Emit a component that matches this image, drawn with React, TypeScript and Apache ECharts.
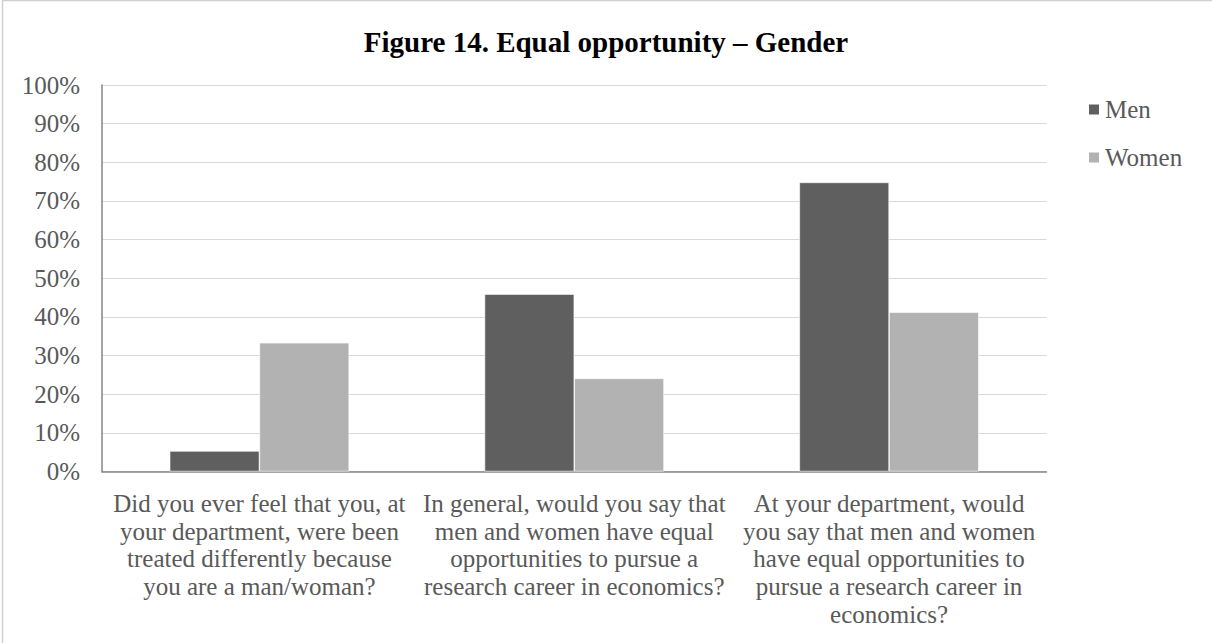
import React, { useEffect, useRef } from "react";
import * as echarts from "echarts";

// Survey questions (x-axis categories), wrapped the way they are printed
const categories: string[] = [
  "Did you ever feel that you, at\nyour department, were been\ntreated differently because\nyou are a man/woman?",
  "In general, would you say that\nmen and women have equal\nopportunities to pursue a\nresearch career in economics?",
  "At your department, would\nyou say that men and women\nhave equal opportunities to\npursue a research career in\neconomics?",
];

// Share of respondents answering "yes", in percent
const menValues: number[] = [5.3, 45.9, 74.8];
const womenValues: number[] = [33.3, 24.1, 41.2];

const seriesNames: string[] = ["Men", "Women"];
const titleText = "Figure 14. Equal opportunity – Gender";

const FONT = "'Liberation Serif', 'Times New Roman', serif";

export default function App() {
  const ref = useRef<HTMLDivElement>(null);

  useEffect(() => {
    if (!ref.current) return;
    const chart = echarts.init(ref.current, null, { renderer: "svg" });
    chart.setOption({
      animation: false,
      backgroundColor: "#ffffff",
      textStyle: { fontFamily: FONT },
      title: {
        text: titleText,
        left: "center",
        top: 22,
        textStyle: {
          fontFamily: FONT,
          fontSize: 29,
          fontWeight: "bold",
          color: "#000000",
        },
      },
      legend: {
        orient: "vertical",
        left: 1082,
        top: 92,
        itemWidth: 12,
        itemHeight: 12,
        itemGap: 23,
        icon: "rect",
        data: seriesNames,
        textStyle: { fontFamily: FONT, fontSize: 25, color: "#595959" },
      },
      grid: { left: 102, right: 165.5, top: 85, bottom: 171.5, containLabel: false },
      xAxis: {
        type: "category",
        data: categories,
        axisTick: { show: false },
        axisLine: { show: true, lineStyle: { color: "#868686", width: 1.5 } },
        axisLabel: {
          interval: 0,
          margin: 18,
          fontFamily: FONT,
          fontSize: 25,
          lineHeight: 27.7,
          color: "#595959",
          align: "center",
        },
      },
      yAxis: {
        type: "value",
        min: 0,
        max: 100,
        interval: 10,
        axisLine: { show: true, lineStyle: { color: "#868686", width: 1.5 } },
        axisTick: { show: false },
        splitLine: { show: true, lineStyle: { color: "#d9d9d9", width: 1 } },
        axisLabel: {
          formatter: "{value}%",
          margin: 22,
          fontFamily: FONT,
          fontSize: 25,
          color: "#595959",
        },
      },
      series: [
        {
          name: seriesNames[0],
          type: "bar",
          data: menValues,
          barGap: "0%",
          barCategoryGap: "43%",
          itemStyle: { color: "#5f5f5f", borderColor: "#ffffff", borderWidth: 0.6 },
        },
        {
          name: seriesNames[1],
          type: "bar",
          data: womenValues,
          barGap: "0%",
          barCategoryGap: "43%",
          itemStyle: { color: "#b2b2b2", borderColor: "#ffffff", borderWidth: 0.6 },
        },
      ],
      graphic: [
        {
          type: "rect",
          silent: true,
          z: -1,
          shape: { x: 2.5, y: 0.5, width: 1220, height: 660 },
          style: { fill: "none", stroke: "#d0d0d0", lineWidth: 1.5 },
        },
      ],
    });
    return () => chart.dispose();
  }, []);

  return (
    <div
      ref={ref}
      style={{ position: "fixed", left: 0, top: 0, width: 1212, height: 643 }}
    />
  );
}
